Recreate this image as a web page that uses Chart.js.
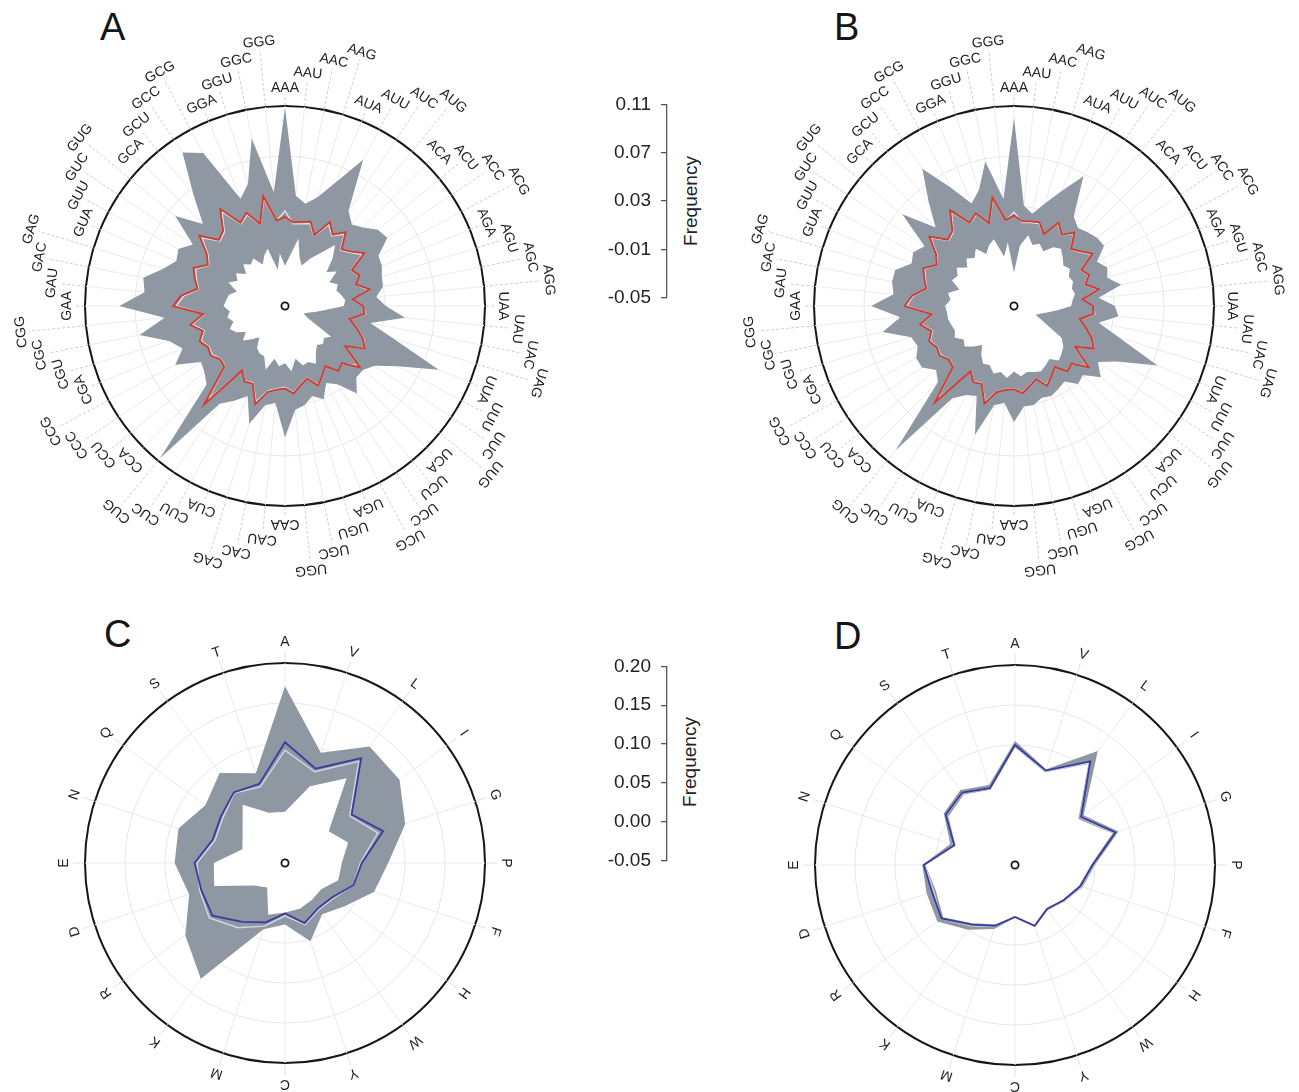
<!DOCTYPE html>
<html>
<head>
<meta charset="utf-8">
<script src="https://cdn.jsdelivr.net/npm/chart.js@4.4.1/dist/chart.umd.min.js"></script>
<style>
  html, body { margin: 0; padding: 0; background: #fff; }
  body { position: relative; width: 1299px; height: 1092px; overflow: hidden;
         font-family: "Liberation Sans", Arial, sans-serif; color: #1a1a1a; }
  canvas { position: absolute; }
  .tag { position: absolute; font-size: 38px; line-height: 1; color: #151515; }
  .ytitle { position: absolute; font-size: 19px; line-height: 1; color: #222;
            transform: translate(-50%, -50%) rotate(-90deg); white-space: nowrap; }
</style>
</head>
<body>
<div class="tag" style="left:100px; top:8px;">A</div>
<div class="tag" style="left:834px; top:8px;">B</div>
<div class="tag" style="left:104px; top:615px;">C</div>
<div class="tag" style="left:834px; top:617px;">D</div>
<div class="ytitle" style="left:690px; top:201px;">Frequency</div>
<div class="ytitle" style="left:689px; top:762px;">Frequency</div>

<canvas id="panelA" width="580" height="580"></canvas>
<canvas id="panelB" width="580" height="580"></canvas>
<canvas id="panelC" width="580" height="580"></canvas>
<canvas id="panelD" width="580" height="580"></canvas>
<canvas id="axisCodon" width="140" height="236"></canvas>
<canvas id="axisAmino" width="140" height="237"></canvas>

<script>
// ---- categories ----
const codons = ['AAA','AAU','AAC','AAG','AUA','AUU','AUC','AUG','ACA','ACU','ACC','ACG','AGA','AGU','AGC','AGG',
                'UAA','UAU','UAC','UAG','UUA','UUU','UUC','UUG','UCA','UCU','UCC','UCG','UGA','UGU','UGC','UGG',
                'CAA','CAU','CAC','CAG','CUA','CUU','CUC','CUG','CCA','CCU','CCC','CCG','CGA','CGU','CGC','CGG',
                'GAA','GAU','GAC','GAG','GUA','GUU','GUC','GUG','GCA','GCU','GCC','GCG','GGA','GGU','GGC','GGG'];
const aminoAcids = ['A','V','L','I','G','P','F','H','W','Y','C','M','K','R','D','E','N','Q','S','T'];

// ---- tick labels ----
const codonTicks = [-0.05, -0.01, 0.03, 0.07, 0.11];
const aminoTicks = [-0.05, 0.00, 0.05, 0.10, 0.15, 0.20];

// ---- panel A: codon frequencies ----
const codonMaxA = [0.1087,0.0387,0.0334,0.0414,0.0576,0.0826,0.0414,0.0344,0.0387,0.0460,0.0484,0.0347,0.0339,0.0309,0.0299,0.0234,
                   0.0307,0.0465,0.0196,0.0414,0.0831,0.0522,0.0360,0.0307,0.0307,0.0406,0.0253,0.0199,0.0307,0.0253,0.0307,0.0334,
                   0.0549,0.0280,0.0307,0.0484,0.0280,0.0360,0.0441,0.1076,0.0387,0.0334,0.0307,0.0495,0.0387,0.0468,0.0686,0.0468,
                   0.0826,0.0629,0.0656,0.0522,0.0441,0.0468,0.0387,0.0635,0.0428,0.0656,0.0976,0.0888,0.0428,0.0522,0.0866,0.0414];
const codonMinA = [-0.0177,-0.0097,0.0051,-0.0097,-0.0150,-0.0070,0.0011,0.0132,0.0038,-0.0070,-0.0003,-0.0097,-0.0043,-0.0070,-0.0043,-0.0016,
                   -0.0029,-0.0177,-0.0258,-0.0312,-0.0339,-0.0285,-0.0056,-0.0097,-0.0070,-0.0097,-0.0056,0.0024,-0.0016,-0.0003,-0.0070,0.0024,
                   -0.0043,-0.0016,-0.0070,0.0030,-0.0064,-0.0070,-0.0097,-0.0177,-0.0124,-0.0064,-0.0124,-0.0056,-0.0021,-0.0070,-0.0029,-0.0056,
                   -0.0008,-0.0027,-0.0043,-0.0097,-0.0011,-0.0070,-0.0029,-0.0097,-0.0029,-0.0070,-0.0043,-0.0124,-0.0064,-0.0021,-0.0204,-0.0078];
const codonMeanA = [0.0213,0.0172,0.0186,0.0205,0.0113,0.0261,0.0186,0.0264,0.0140,0.0186,0.0261,0.0105,0.0145,0.0092,0.0188,0.0046,
                    0.0124,0.0140,0.0027,0.0097,0.0172,0.0226,0.0078,0.0274,0.0145,0.0172,0.0078,0.0132,0.0188,0.0105,0.0145,0.0202,
                    0.0159,0.0172,0.0199,0.0320,0.0172,0.0186,0.0118,0.0519,0.0186,0.0172,0.0213,0.0199,0.0239,0.0186,0.0272,0.0156,
                    0.0395,0.0334,0.0213,0.0253,0.0293,0.0199,0.0253,0.0387,0.0248,0.0280,0.0433,0.0256,0.0307,0.0186,0.0393,0.0186];
const codonMedianA = [0.0260,0.0160,0.0170,0.0190,0.0105,0.0240,0.0175,0.0245,0.0130,0.0175,0.0240,0.0100,0.0140,0.0090,0.0175,0.0050,
                      0.0120,0.0150,0.0030,0.0100,0.0180,0.0230,0.0080,0.0250,0.0150,0.0170,0.0080,0.0135,0.0180,0.0100,0.0140,0.0195,
                      0.0150,0.0165,0.0190,0.0300,0.0165,0.0180,0.0115,0.0470,0.0180,0.0165,0.0200,0.0190,0.0225,0.0175,0.0255,0.0150,
                      0.0370,0.0315,0.0205,0.0240,0.0275,0.0190,0.0240,0.0360,0.0235,0.0265,0.0405,0.0245,0.0290,0.0180,0.0370,0.0185];

// ---- panel B: codon frequencies ----
const codonMaxB = [0.1006,0.0307,0.0253,0.0360,0.0495,0.0678,0.0360,0.0307,0.0334,0.0360,0.0366,0.0253,0.0307,0.0280,0.0374,0.0180,
                   0.0307,0.0339,0.0191,0.0387,0.0742,0.0441,0.0307,0.0398,0.0280,0.0307,0.0226,0.0253,0.0280,0.0266,0.0307,0.0307,
                   0.0428,0.0280,0.0307,0.0576,0.0280,0.0307,0.0387,0.0990,0.0360,0.0307,0.0385,0.0387,0.0334,0.0360,0.0570,0.0414,
                   0.0643,0.0468,0.0495,0.0492,0.0387,0.0414,0.0360,0.0656,0.0387,0.0576,0.0820,0.0576,0.0387,0.0468,0.0678,0.0360];
const codonMinB = [-0.0231,-0.0016,0.0078,0.0011,0.0038,-0.0003,0.0065,0.0092,0.0051,0.0011,0.0038,-0.0003,0.0011,-0.0016,-0.0003,-0.0029,
                   -0.0043,-0.0150,-0.0231,-0.0285,-0.0312,-0.0231,-0.0043,0.0011,0.0038,0.0065,0.0011,0.0038,0.0065,0.0051,0.0038,0.0065,
                   0.0024,0.0078,0.0038,0.0065,0.0011,0.0024,-0.0029,-0.0097,-0.0043,0.0011,-0.0016,0.0038,0.0011,0.0024,0.0038,0.0038,
                   0.0051,0.0011,0.0038,-0.0043,0.0038,0.0011,0.0051,-0.0016,0.0038,-0.0003,0.0051,-0.0029,0.0024,0.0057,-0.0097,0.0011];
const codonMeanB = [0.0225,0.0180,0.0190,0.0200,0.0120,0.0255,0.0185,0.0260,0.0145,0.0190,0.0255,0.0110,0.0150,0.0095,0.0190,0.0050,
                    0.0130,0.0140,0.0035,0.0100,0.0175,0.0225,0.0085,0.0270,0.0150,0.0175,0.0085,0.0135,0.0190,0.0110,0.0150,0.0200,
                    0.0165,0.0175,0.0200,0.0315,0.0175,0.0190,0.0125,0.0495,0.0190,0.0175,0.0215,0.0200,0.0235,0.0190,0.0265,0.0160,
                    0.0375,0.0320,0.0215,0.0250,0.0285,0.0200,0.0250,0.0375,0.0250,0.0275,0.0420,0.0255,0.0300,0.0190,0.0385,0.0190];
const codonMedianB = [0.0250,0.0170,0.0180,0.0190,0.0115,0.0245,0.0180,0.0250,0.0140,0.0180,0.0245,0.0105,0.0145,0.0090,0.0180,0.0050,
                      0.0125,0.0150,0.0035,0.0100,0.0180,0.0230,0.0080,0.0255,0.0150,0.0170,0.0085,0.0135,0.0180,0.0105,0.0145,0.0195,
                      0.0160,0.0170,0.0195,0.0300,0.0170,0.0185,0.0120,0.0470,0.0185,0.0170,0.0205,0.0195,0.0225,0.0180,0.0255,0.0155,
                      0.0360,0.0310,0.0210,0.0240,0.0275,0.0195,0.0240,0.0360,0.0240,0.0265,0.0400,0.0250,0.0290,0.0185,0.0370,0.0185];

// ---- panel C: amino-acid frequencies ----
const aminoMaxC    = [0.171,0.095,0.130,0.127,0.108,0.079,0.067,0.042,0.029,0.053,0.027,0.037,0.129,0.104,0.076,0.088,0.090,0.073,0.089,0.068];
const aminoMinC    = [0.014,0.051,0.081,0.0175,0.033,0.021,0.020,0.006,0.007,0.010,0.012,0.018,-0.012,-0.002,0.043,0.039,0.006,0.0155,0.040,0.016];
const aminoMeanC   = [0.101,0.074,0.112,0.053,0.079,0.046,0.040,0.023,0.020,0.029,0.013,0.028,0.041,0.062,0.060,0.063,0.045,0.049,0.059,0.054];
const aminoMedianC = [0.091,0.070,0.107,0.050,0.072,0.044,0.040,0.025,0.022,0.031,0.016,0.033,0.050,0.067,0.062,0.060,0.042,0.046,0.058,0.050];

// ---- panel D: amino-acid frequencies ----
const aminoMaxD    = [0.105,0.076,0.126,0.056,0.086,0.050,0.039,0.027,0.020,0.031,0.016,0.034,0.050,0.070,0.066,0.066,0.035,0.060,0.066,0.055];
const aminoMinD    = [0.097,0.072,0.106,0.048,0.078,0.045,0.034,0.024,0.017,0.029,0.014,0.028,0.040,0.061,0.054,0.062,0.028,0.053,0.059,0.049];
const aminoMeanD   = [0.100,0.074,0.110,0.052,0.082,0.047,0.036,0.025,0.018,0.030,0.015,0.030,0.042,0.0635,0.059,0.064,0.030,0.057,0.062,0.051];
const aminoMedianD = [0.099,0.073,0.108,0.051,0.080,0.048,0.037,0.026,0.019,0.030,0.015,0.031,0.044,0.064,0.057,0.063,0.031,0.056,0.061,0.050];

const FONT = '"Liberation Sans", Arial, sans-serif';
const RANGE_FILL = '#8e97a2';

// Rotated category labels around the rim, plus leader lines and the centre ring.
const rimLabels = {
  id: 'rimLabels',
  afterDatasetsDraw(chart, args, opts) {
    const s = chart.scales.r;
    const ctx = chart.ctx;
    const R = s.drawingArea;
    const labels = chart.data.labels;
    ctx.save();
    labels.forEach((lab, i) => {
      const rot = s.getIndexAngle(i);
      const off = opts.offsets[i % opts.offsets.length];
      // leader line outside the rim
      const p0 = s.getPointPosition(i, R + 1);
      const p1 = s.getPointPosition(i, R + off - opts.gap);
      ctx.strokeStyle = opts.leaderColor;
      ctx.lineWidth = 0.8;
      ctx.setLineDash(opts.dash);
      ctx.beginPath();
      ctx.moveTo(p0.x, p0.y);
      ctx.lineTo(p1.x, p1.y);
      ctx.stroke();
      ctx.setLineDash([]);
      // label
      const p = s.getPointPosition(i, R + off);
      ctx.save();
      ctx.translate(p.x, p.y);
      ctx.rotate(rot);
      ctx.fillStyle = '#1f1f1f';
      ctx.font = opts.font;
      ctx.textAlign = 'center';
      ctx.textBaseline = 'middle';
      ctx.fillText(lab, 0, 0);
      ctx.restore();
    });
    // centre ring
    ctx.strokeStyle = '#151515';
    ctx.lineWidth = 1.8;
    ctx.beginPath();
    ctx.arc(s.xCenter, s.yCenter, 3.6, 0, Math.PI * 2);
    ctx.stroke();
    ctx.restore();
  }
};

function radarPanel(id, cx, cy, labels, ticks, maxArr, minArr, meanArr, medianArr, lineColor, medianColor, rim) {
  const el = document.getElementById(id);
  el.style.left = (cx - 290) + 'px';
  el.style.top = (cy - 290) + 'px';
  const last = ticks.length - 1;
  return new Chart(el, {
    type: 'radar',
    data: {
      labels: labels,
      datasets: [
        { data: meanArr, borderColor: lineColor, borderWidth: 1.8, fill: false, order: 1 },
        { data: medianArr, borderColor: medianColor, borderWidth: 1.4, fill: false, order: 2 },
        { data: minArr, borderColor: 'rgba(255,255,255,0)', borderWidth: 1, backgroundColor: '#ffffff', fill: 'start', order: 3 },
        { data: maxArr, borderColor: 'rgba(142,151,162,0)', borderWidth: 1, backgroundColor: RANGE_FILL, fill: 'start', order: 4 }
      ]
    },
    options: {
      responsive: false,
      animation: false,
      devicePixelRatio: 1,
      layout: { padding: 90 },
      elements: { point: { radius: 0, hoverRadius: 0 }, line: { tension: 0 } },
      plugins: {
        legend: { display: false },
        tooltip: { enabled: false },
        filler: { propagate: false, drawTime: 'beforeDatasetDraw' },
        rimLabels: rim
      },
      scales: {
        r: {
          min: ticks[0],
          max: ticks[last],
          afterBuildTicks: (scale) => { scale.ticks = ticks.map(v => ({ value: v })); },
          ticks: { display: false },
          pointLabels: { display: false },
          grid: {
            circular: true,
            color: (c) => c.index === last ? '#161616' : (c.index === 0 ? 'rgba(0,0,0,0)' : '#e6e7ea'),
            lineWidth: (c) => c.index === last ? 2 : 1
          },
          angleLines: { display: true, color: '#ebebed', lineWidth: 1 }
        }
      }
    },
    plugins: [rimLabels]
  });
}

const codonRim = { offsets: [18, 34, 50, 65], gap: 8, dash: [3, 2], leaderColor: '#c2c2c2', font: '14px ' + FONT };
const aminoRim = { offsets: [21], gap: 9, dash: [], leaderColor: '#d8d8d8', font: '14px ' + FONT };

radarPanel('panelA', 284.5, 306, codons, codonTicks, codonMaxA, codonMinA, codonMeanA, codonMedianA, '#d4392c', '#dfe5ec', codonRim);
radarPanel('panelB', 1014, 306, codons, codonTicks, codonMaxB, codonMinB, codonMeanB, codonMedianB, '#d4392c', '#dfe5ec', codonRim);
radarPanel('panelC', 284.5, 863, aminoAcids, aminoTicks, aminoMaxC, aminoMinC, aminoMeanC, aminoMedianC, '#3b3b9d', '#d3d9e2', aminoRim);
radarPanel('panelD', 1015, 865, aminoAcids, aminoTicks, aminoMaxD, aminoMinD, aminoMeanD, aminoMedianD, '#3b3b9d', '#d3d9e2', aminoRim);

// Stand-alone frequency scale bars between the panels.
function freqAxis(id, ticks, lineX, topY) {
  const el = document.getElementById(id);
  const last = ticks.length - 1;
  const chart = new Chart(el, {
    type: 'scatter',
    data: { datasets: [{ data: [] }] },
    options: {
      responsive: false,
      animation: false,
      devicePixelRatio: 1,
      layout: { padding: { top: 20, bottom: 20, left: 0, right: 10 } },
      plugins: { legend: { display: false }, tooltip: { enabled: false } },
      scales: {
        x: { display: false, min: 0, max: 1 },
        y: {
          position: 'left',
          min: ticks[0],
          max: ticks[last],
          afterBuildTicks: (scale) => { scale.ticks = ticks.map(v => ({ value: v })); },
          ticks: { font: { size: 19, family: FONT }, color: '#222', padding: 10,
                   callback: (v) => Number(v).toFixed(2) },
          grid: { drawOnChartArea: false, drawTicks: true, tickLength: 6, color: '#555', lineWidth: 1.3 },
          border: { display: true, color: '#555', width: 1.3 }
        }
      }
    }
  });
  el.style.left = (lineX - chart.chartArea.left) + 'px';
  el.style.top = (topY - chart.chartArea.top) + 'px';
}
freqAxis('axisCodon', codonTicks, 667, 104);
freqAxis('axisAmino', aminoTicks, 667, 666);
</script>
</body>
</html>
